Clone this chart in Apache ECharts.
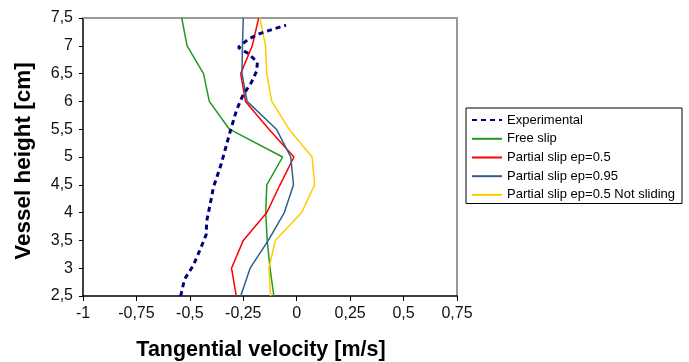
<!DOCTYPE html>
<html>
<head>
<meta charset="utf-8">
<script src="https://cdn.jsdelivr.net/npm/echarts@6.0.0/dist/echarts.min.js"></script>
<style>
  html, body { margin: 0; padding: 0; background: #fff; }
  #chart { width: 689px; height: 362px; }
</style>
</head>
<body>
<div id="chart"></div>
<script>
// heights [cm] where the simulated profiles are sampled
const heights = [2.5, 3, 3.5, 4, 4.5, 5, 5.5, 6, 6.5, 7, 7.5];

// tangential velocity [m/s], bottom to top
const freeSlip = [-0.107, -0.125, -0.138, -0.145, -0.14, -0.066, -0.315, -0.409, -0.436, -0.513, -0.538];
const partialSlip05 = [-0.283, -0.305, -0.25, -0.14, -0.078, -0.013, -0.13, -0.24, -0.262, -0.208, -0.178];
const partialSlip095 = [-0.262, -0.218, -0.133, -0.058, -0.015, -0.028, -0.095, -0.232, -0.256, -0.254, -0.25];
const notSliding = [-0.122, -0.13, -0.1, 0.023, 0.084, 0.072, -0.036, -0.117, -0.14, -0.146, -0.172];

// experimental profile, points in path order
const expVelocity = [-0.543, -0.525, -0.484, -0.445, -0.424, -0.421, -0.405, -0.39, -0.355, -0.312, -0.281, -0.253, -0.211, -0.187, -0.184, -0.222, -0.273, -0.226, -0.172, -0.11, -0.05];
const expHeight = [2.5, 2.8, 3.05, 3.4, 3.6, 3.85, 4.15, 4.45, 4.85, 5.45, 5.85, 6.1, 6.35, 6.55, 6.7, 6.85, 6.97, 7.12, 7.22, 7.3, 7.37];

const legendNames = ['Experimental', 'Free slip', 'Partial slip ep=0.5', 'Partial slip ep=0.95', 'Partial slip ep=0.5 Not sliding'];

const font = 'Liberation Sans, Arial, sans-serif';
const fmt = (v) => String(v).replace('.', ',');

const pairs = (vals) => vals.map((v, i) => [v, heights[i]]);

const simLine = (name, vals, color) => ({
    name: name,
    type: 'line',
    data: pairs(vals),
    showSymbol: false,
    itemStyle: { color: color },
    lineStyle: { color: color, width: 1.5 },
    animation: false,
});

const chart = echarts.init(document.getElementById('chart'), null, { renderer: 'canvas' });

chart.setOption({
    backgroundColor: '#fff',
    animation: false,
    textStyle: { fontFamily: font },
    grid: { left: 83, top: 18, right: 232, bottom: 66, outerBoundsMode: 'none', containLabel: false },
    legend: {
        data: legendNames,
        orient: 'vertical',
        left: 466,
        top: 108,
        padding: [5.5, 7, 2, 5],
        itemWidth: 30,
        itemHeight: 14,
        itemGap: 5.5,
        borderColor: '#000',
        borderWidth: 1,
        itemStyle: { opacity: 0 },
        textStyle: { fontFamily: font, fontSize: 13, color: '#000' },
    },
    xAxis: [
        {
            type: 'value',
            min: -1,
            max: 0.75,
            interval: 0.25,
            name: 'Tangential velocity [m/s]',
            nameLocation: 'middle',
            nameGap: 43,
            nameTextStyle: { fontFamily: font, fontSize: 21.5, fontWeight: 'bold', color: '#000', padding: [0, 18, 0, 0] },
            axisLine: { show: true, onZero: false, lineStyle: { color: '#000', width: 1.5 } },
            axisTick: { show: true, length: 5, lineStyle: { color: '#000' } },
            axisLabel: { formatter: fmt, fontSize: 16, color: '#111', margin: 10, fontFamily: font },
            splitLine: { show: false },
        },
        {
            type: 'value',
            position: 'top',
            min: -1,
            max: 0.75,
            axisLine: { show: true, onZero: false, lineStyle: { color: '#999', width: 2 } },
            axisTick: { show: false },
            axisLabel: { show: false },
            splitLine: { show: false },
        },
    ],
    yAxis: [
        {
            type: 'value',
            min: 2.5,
            max: 7.5,
            interval: 0.5,
            name: 'Vessel height [cm]',
            nameLocation: 'middle',
            nameGap: 48,
            nameTextStyle: { fontFamily: font, fontSize: 22.5, fontWeight: 'bold', color: '#000', padding: [0, 8, 0, 0] },
            axisLine: { show: true, onZero: false, lineStyle: { color: '#000', width: 1.5 } },
            axisTick: { show: true, length: 4, lineStyle: { color: '#000' } },
            axisLabel: { formatter: fmt, fontSize: 16, color: '#111', margin: 10, fontFamily: font },
            splitLine: { show: false },
        },
        {
            type: 'value',
            position: 'right',
            min: 2.5,
            max: 7.5,
            axisLine: { show: true, onZero: false, lineStyle: { color: '#999', width: 2 } },
            axisTick: { show: false },
            axisLabel: { show: false },
            splitLine: { show: false },
        },
    ],
    series: [
        simLine('Free slip', freeSlip, '#1f9a1f'),
        simLine('Partial slip ep=0.5', partialSlip05, '#ff0000'),
        simLine('Partial slip ep=0.95', partialSlip095, '#2f5f8f'),
        simLine('Partial slip ep=0.5 Not sliding', notSliding, '#ffcc00'),
        {
            name: 'Experimental',
            type: 'line',
            data: expVelocity.map((v, i) => [v, expHeight[i]]),
            showSymbol: false,
            z: 5,
            itemStyle: { color: '#000080' },
            lineStyle: { color: '#000080', width: 3, type: [5, 4] },
            animation: false,
        },
    ],
});
</script>
</body>
</html>
